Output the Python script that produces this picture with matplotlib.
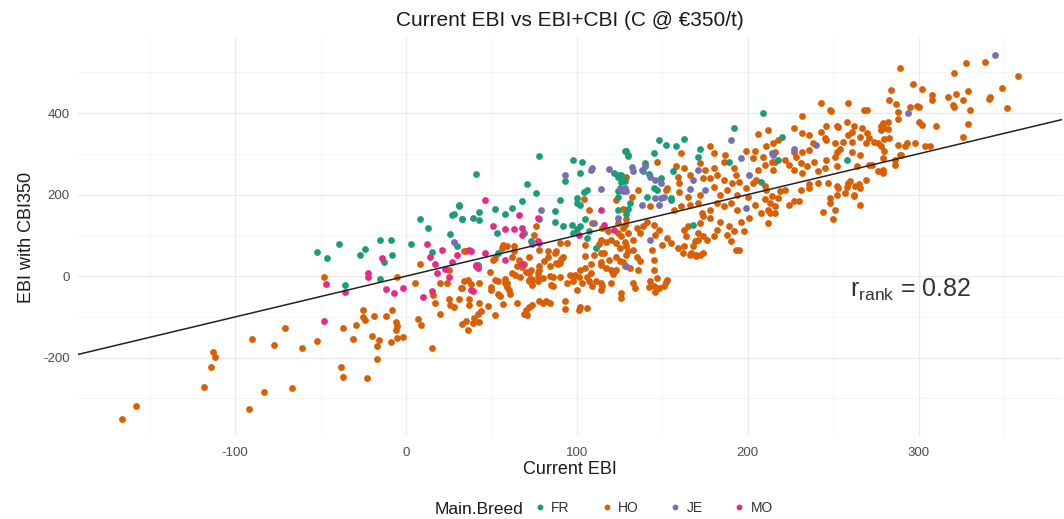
import matplotlib
matplotlib.use("Agg")
import matplotlib.pyplot as plt
from matplotlib.lines import Line2D

# Current EBI (x) vs EBI with CBI350 (y)
FR = [(-52, 58), (-46, 44), (-39, 78), (-27, 51), (-24, 66), (-15, 88), (-9, 88), (-8, 51),
      (-13, 35), (-36, -22), (-15, -6), (3, 79), (8, 141), (13, 117), (15, 60), (26, 103),
      (27, 150), (28, 152), (31, 175), (33, 139), (30, 74), (54, 56), (41, 251), (78, 294),
      (31, 173), (33, 140), (39, 143), (43, 157), (43, 137), (52, 165), (58, 152), (62, 167),
      (68, 184), (71, 227), (76, 204), (78, 139), (87, 159), (87, 134), (90, 186), (92, 124),
      (93, 233), (98, 286), (103, 280), (102, 252), (104, 206), (106, 211), (100, 191),
      (100, 180), (102, 174), (105, 140), (97, 126), (102, 122), (122, 253), (124, 243),
      (126, 247), (128, 233), (129, 307), (130, 298), (124, 208), (124, 194), (129, 153),
      (130, 164), (53, 107), (69, 107), (73, 85), (100, 116), (98, 106), (107, 110),
      (106, 93), (111, 69), (42, 28), (128, 306), (130, 295), (148, 334), (152, 322),
      (158, 320), (163, 336), (145, 302), (192, 363), (209, 400), (172, 311), (171, 292),
      (140, 277), (139, 257), (142, 251), (156, 257), (189, 279), (208, 232), (149, 240),
      (147, 211), (145, 216), (125, 211), (141, 193), (155, 191), (124, 248), (126, 240),
      (126, 232), (131, 180), (155, 187), (168, 126), (124, 163), (220, 342), (218, 285),
      (258, 285)]

JE = [(28, 84), (79, 161), (93, 247), (108, 260), (109, 264), (114, 214), (119, 263),
      (125, 216), (127, 208), (124, 142), (74, 80), (110, 130), (190, 333), (138, 261),
      (132, 267), (133, 259), (171, 261), (196, 289), (214, 302), (201, 248), (168, 236),
      (175, 211), (166, 213), (149, 228), (146, 236), (143, 244), (128, 216), (129, 208),
      (146, 191), (151, 193), (140, 270), (138, 175), (148, 175), (149, 191), (199, 167),
      (143, 89), (129, 24), (294, 399), (240, 322), (227, 313), (215, 297), (345, 542)]

MO = [(-48, -110), (-47, -20), (-36, -38), (-22, 7), (-22, -2), (-14, 44), (-12, -32),
      (-7, -42), (-2, -30), (10, -51), (15, -36), (14, 48), (18, 7), (17, 30), (21, 63),
      (25, -1), (27, 34), (30, 52), (37, 64), (39, -36), (41, 27), (42, 19), (58, 39),
      (12, 80), (23, 18), (46, 186), (66, 151), (77, 143), (51, 122), (58, 116), (63, 116),
      (68, 117), (114, 163), (116, 126), (68, 102), (77, 85), (78, 81), (101, 102),
      (122, 114), (38, -34), (38, 61), (46, 57), (41, 24), (68, 31)]

HO = [(-166, -350), (-158, -319), (-118, -272), (-114, -222), (-113, -187), (-112, -198),
      (-92, -325), (-90, -155), (-83, -285), (-77, -170), (-71, -127), (-67, -275),
      (-61, -177), (-52, -158), (-48, -2), (-38, -224), (-37, -248), (-37, -127),
      (-31, -153), (-29, -120), (-25, -83), (-25, -100), (-24, -108), (-23, -249),
      (-20, -146), (-19, -98), (-17, -202), (-17, -171), (-16, -157), (-12, -98), (-9, -161),
      (-8, -82), (-6, -112), (-6, -132), (-5, -122), (-5, -152), (-2, -150), (-5, -3),
      (5, -18), (8, 31), (7, -105), (9, -120), (15, -177), (16, -47), (17, -65), (20, -93),
      (20, -18), (24, -18), (25, 15), (25, -55), (26, -71), (28, -75), (31, -56), (33, -118),
      (36, -132), (36, -10), (37, -55), (37, -71), (38, -20), (39, -115), (42, -92),
      (43, -112), (43, -18), (43, -67), (44, -85), (48, -74), (50, -26), (51, 39), (52, -10),
      (54, -43), (58, -16), (58, -6), (59, -26), (60, -34), (61, -43), (62, 47), (64, 2),
      (65, -67), (66, 39), (68, 23), (69, -92), (70, -83), (72, -10), (74, -71), (35, 62),
      (33, -29),
      (76, 124), (104, 188), (107, 163), (109, 130), (123, 186), (127, 164), (129, 139),
      (75, 102), (105, 77), (115, 118), (118, 110), (124, 106), (127, 118), (114, 89),
      (117, 83), (120, 88), (123, 81), (128, 83), (113, 79), (114, 57), (116, 57), (123, 48),
      (130, 61), (125, 36), (128, 24), (123, 16), (121, 11), (117, 20), (114, 34), (110, 52),
      (105, 50), (108, 7), (107, -11), (109, -25), (101, -2), (102, 15), (100, -34), (99, 4),
      (98, -3), (105, 20), (111, -13), (115, -25), (114, -34), (121, 6), (126, -42),
      (126, -54), (129, 73), (94, 81), (90, 81), (88, 61), (87, 57), (92, 48), (90, 32),
      (88, 33), (83, 47), (83, 61), (84, 24), (81, 36), (78, 16), (77, 7), (78, 24), (80, -5),
      (77, -13), (73, -7), (72, -13), (74, -21), (72, 7), (70, 11), (67, -3), (69, 29),
      (65, 24), (62, 7), (59, -17), (56, 69), (59, 73), (63, 61), (57, 77), (63, 75),
      (52, 44), (49, 11), (54, -13), (50, -34), (55, -48), (34, -13), (32, -30), (35, -111),
      (40, -103), (52, -95), (57, -68), (71, -95), (78, -62), (80, -66), (82, -61), (84, -66),
      (93, -62), (93, -81), (101, -83), (102, -76), (106, -79), (84, 0), (86, -25), (90, -2),
      (94, -16), (72, 48), (78, 65), (34, 61),
      (72, -75), (103, -18), (106, -2), (98, -11), (96, 2), (114, -18), (120, -18), (120, 15),
      (146, -39), (166, 52), (170, 49), (193, 64), (86, -2), (85, -22), (89, 31), (91, 43),
      (73, 15), (74, -10), (77, -2), (108, 31), (114, 27), (119, 39), (127, 35), (142, -26),
      (148, -30), (152, -14),
      (206, 349), (212, 359), (178, 318), (180, 303), (161, 303), (147, 281), (158, 271),
      (163, 265), (166, 248), (172, 277), (175, 261), (180, 265), (186, 281), (187, 298),
      (192, 265), (193, 248), (199, 306), (204, 306), (203, 289), (209, 293), (211, 318),
      (215, 326), (216, 281), (210, 273), (215, 261), (206, 261), (205, 236), (210, 220),
      (203, 228), (199, 216), (195, 232), (191, 228), (186, 236), (182, 248), (178, 240),
      (174, 240), (172, 199), (180, 218), (184, 199), (188, 211), (194, 199), (200, 195),
      (159, 244), (160, 228), (153, 216), (152, 211), (160, 207), (165, 195), (136, 211),
      (132, 195), (129, 244),
      (143, 171), (157, 163), (161, 171), (166, 175), (171, 180), (173, 155), (178, 163),
      (182, 180), (186, 171), (190, 180), (194, 163), (204, 175), (210, 188), (214, 196),
      (216, 171), (216, 155), (208, 155), (201, 143), (196, 134), (198, 110), (192, 110),
      (189, 122), (188, 102), (190, 85), (195, 65), (184, 134), (182, 114), (180, 98),
      (178, 143), (174, 147), (172, 131), (171, 106), (174, 98), (176, 89), (171, 89),
      (169, 85), (168, 73), (165, 122), (163, 114), (164, 98), (163, 73), (162, 57),
      (167, 57), (170, 52), (172, 52), (174, 57), (159, 69), (155, 81), (153, 93), (150, 77),
      (148, 114), (145, 126), (146, 102), (141, 134), (139, 122), (137, 106), (135, 118),
      (133, 89), (130, 106), (126, 98), (128, 126), (125, 69), (129, 52), (133, 65),
      (135, 48), (137, 36), (144, 65), (145, 40), (145, 16), (147, -5), (143, -13), (136, 16),
      (131, 20), (133, -17), (134, -30), (145, -25), (151, -25), (153, -9), (124, 130),
      (297, 471), (284, 456), (283, 432), (287, 422), (295, 415), (299, 417), (288, 403),
      (288, 385), (282, 379), (279, 375), (278, 367), (280, 363), (278, 359), (283, 338),
      (280, 336), (288, 322), (293, 326), (298, 326), (289, 298), (279, 289), (286, 285),
      (243, 425), (249, 406), (259, 424), (270, 407), (232, 393), (227, 363), (232, 352),
      (236, 346), (243, 353), (246, 367), (253, 365), (258, 379), (262, 367), (261, 354),
      (259, 346), (267, 363), (270, 352), (266, 341), (271, 338), (276, 326), (274, 330),
      (269, 326), (261, 330), (256, 330), (251, 326), (246, 334), (238, 326), (236, 310),
      (232, 305), (227, 305), (228, 293), (218, 333), (216, 305), (222, 285), (214, 281),
      (224, 273), (231, 277), (235, 269), (239, 281), (246, 285), (251, 293), (252, 305),
      (254, 313), (261, 305), (266, 297), (264, 269), (245, 265), (241, 257), (252, 269),
      (271, 273), (276, 257), (279, 261), (286, 273), (232, 253), (227, 261),
      (279, 253), (260, 233), (265, 225), (266, 216), (258, 219), (253, 216), (252, 200),
      (262, 200), (266, 175), (248, 180), (251, 163), (244, 157), (250, 139), (247, 229),
      (241, 229), (236, 225), (236, 216), (231, 212), (230, 184), (227, 184), (224, 175),
      (218, 192), (222, 212), (219, 208), (213, 180), (212, 163), (213, 155), (212, 131),
      (211, 212),
      (289, 510), (321, 499), (328, 522), (339, 526), (358, 492), (302, 458), (308, 444),
      (308, 433), (317, 440), (322, 446), (320, 420), (321, 414), (326, 432), (329, 455),
      (342, 440), (349, 461), (341, 434), (352, 412), (330, 408), (329, 373), (326, 340),
      (300, 416), (300, 378), (302, 371), (310, 369), (304, 320), (307, 320), (292, 320),
      (290, 296), (282, 360), (278, 318), (280, 306), (268, 408), (248, 408), (273, 273),
      (269, 236), (263, 220), (259, 228), (252, 220), (257, 203), (262, 196), (248, 191),
      (245, 338), (252, 367)]

breeds = ["FR", "HO", "JE", "MO"]
breed_points = {"FR": FR, "HO": HO, "JE": JE, "MO": MO}
colors = {"FR": "#1B9E77", "HO": "#D95F02", "JE": "#7570B3", "MO": "#E7298A"}
draw_order = ["HO", "FR", "JE", "MO"]

# reference line y = x
line_intercept, line_slope = 0, 1
xlim = (-192, 384)
ylim = (-392, 584)

plt.rcParams['font.family'] = ['Liberation Sans', 'DejaVu Sans']
plt.rcParams['axes.unicode_minus'] = False

fig = plt.figure(figsize=(10.64, 5.19), dpi=100)
ax = fig.add_axes([78 / 1064, 1 - 436 / 519, 984 / 1064, 398 / 519])

for b in draw_order:
    xs = [p[0] for p in breed_points[b]]
    ys = [p[1] for p in breed_points[b]]
    ax.scatter(xs, ys, s=24, color=colors[b], linewidths=0, zorder=3)

ax.plot(xlim, [line_intercept + line_slope * v for v in xlim], color="#222222", lw=1.1, zorder=4)

ax.set_xlim(*xlim)
ax.set_ylim(*ylim)
ax.set_xticks([-100, 0, 100, 200, 300])
ax.set_yticks([-200, 0, 200, 400])
ax.set_xticks([-150, -50, 50, 150, 250, 350], minor=True)
ax.set_yticks([-300, -100, 100, 300, 500], minor=True)
ax.grid(True, which="major", color="#EBEBEB", lw=0.9, zorder=0)
ax.grid(True, which="minor", color="#F2F2F2", lw=0.6, zorder=0)
ax.set_axisbelow(True)
for s in ax.spines.values():
    s.set_visible(False)
ax.tick_params(which="both", length=0, labelsize=9.5, labelcolor="#4D4D4D")
ax.tick_params(axis="x", pad=8)
ax.tick_params(axis="y", pad=6)

ax.set_xlabel("Current EBI", fontsize=13, color="#1A1A1A", labelpad=1)
ax.set_ylabel("EBI with CBI350", fontsize=13, color="#1A1A1A", labelpad=6)
ax.set_title("Current EBI vs EBI+CBI (C @ €350/t)", fontsize=15, color="#1A1A1A", pad=9)

ax.text(260, -34, r"$\mathregular{r_{rank}}$ = 0.82", fontsize=18, color="#333333",
        ha="left", va="center")

# legend along the bottom
fig.text(435 / 1064, 1 - 509 / 519, "Main.Breed", fontsize=12.5, color="#1A1A1A",
         ha="left", va="center")
handles = [Line2D([], [], linestyle="none", marker="o", markersize=4.2,
                  markerfacecolor=colors[b], markeredgewidth=0) for b in breeds]
fig.legend(handles, breeds, loc="center left", bbox_to_anchor=(534 / 1064, 1 - 508 / 519),
           ncol=4, frameon=False, fontsize=10, handlelength=0.9, handletextpad=0.35,
           columnspacing=2.2, labelcolor="#333333", borderpad=0, borderaxespad=0)

fig.savefig("out.png", dpi=100)
